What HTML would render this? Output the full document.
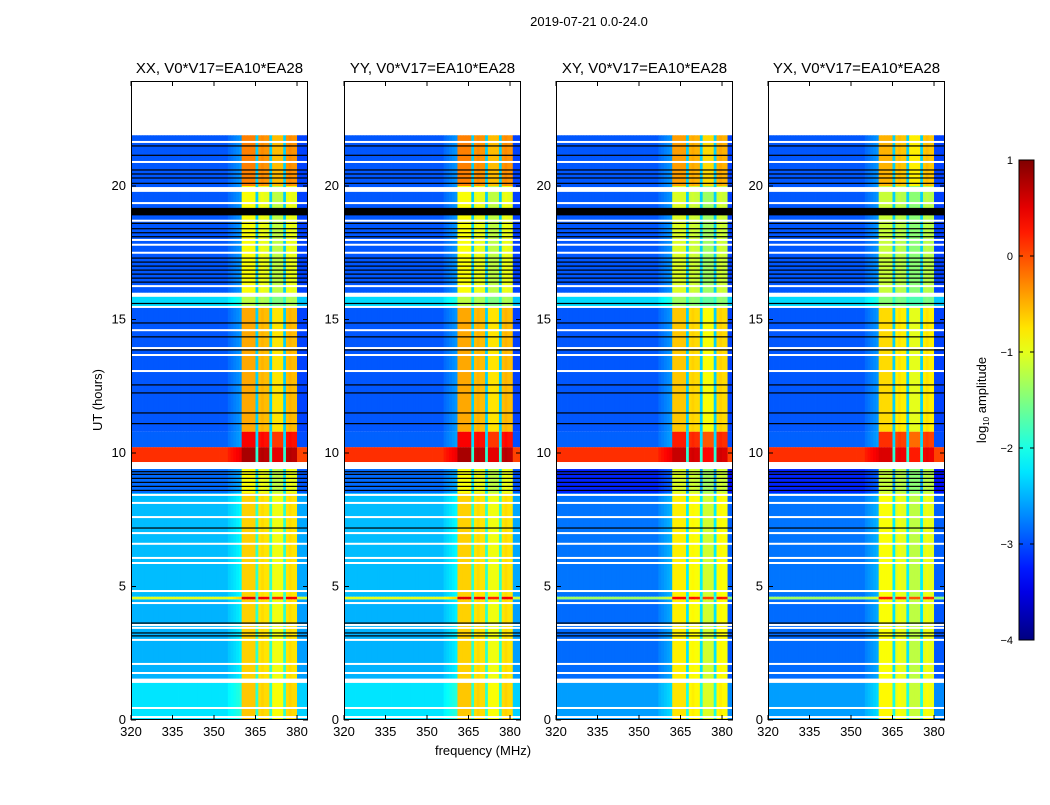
<!DOCTYPE html>
<html><head><meta charset="utf-8">
<style>
html,body{margin:0;padding:0;background:#fff;}
svg text{font-family:"Liberation Sans","DejaVu Sans",sans-serif;fill:#000;}
</style></head>
<body>
<svg id="fig" width="1050" height="800" xmlns="http://www.w3.org/2000/svg">
<text x="589" y="26" font-size="13" text-anchor="middle">2019-07-21 0.0-24.0</text>
<text x="483" y="755" font-size="13" text-anchor="middle">frequency (MHz)</text>
<text x="102" y="400" font-size="13" text-anchor="middle" transform="rotate(-90 102 400)">UT (hours)</text>
<g id="panels"></g>
<g id="cbar"></g>
</svg>
<script>
// ---- data ----
const panelTitles = ["XX, V0*V17=EA10*EA28","YY, V0*V17=EA10*EA28","XY, V0*V17=EA10*EA28","YX, V0*V17=EA10*EA28"];
const bandShift = [0, 0.5, 1.5, 0];          // MHz shift of RFI band per panel
const lowBgShift = [0, 0, -0.35, -0.35];     // background offset below 9.4 h
const panelBandAdj = [0, 0, -0.15, -0.25];   // band level offset per panel
// column kinds per 1-MHz bin starting at 320 MHz: 0 background, 1 band, 2 gap
const colKind = [0,0,0,0,0,0,0,0,0,0,0,0,0,0,0,0,0,0,0,0,0,0,0,0,0,0,0,0,0,0,0,0,0,0,0,
                 0,0,0,0,0, 1,1,1,1,1, 2, 1,1,1,1, 2, 1,1,1,1, 2, 1,1,1,1, 0,0,0,0];
const colAdj  = [0,0,0,0,0,0,0,0,0,0,0,0,0,0,0,0,0,0,0,0,0,0,0,0,0,0,0,0,0,0,0,0,0,0,0,
                 0.1,0.15,0.2,0.25,0.3, 0.1,0.1,0.1,0.1,0.1, 0, 0,0.05,0,0, 0, -0.2,-0.2,-0.2,-0.2, 0, 0,0.05,0,0, -0.1,-0.1,-0.1,-0.1];
// time segments: [t0, t1, background level, band level]
const segStart = [0, 1.4, 4.52, 4.62, 8.5, 9.66, 10.22, 10.8, 15.5, 16.0, 20.0];
const segEnd   = [1.4, 4.52, 4.62, 8.5, 9.4, 10.22, 10.8, 15.5, 16.0, 20.0, 21.9];
const segBg    = [-2.25, -2.5, -1.0, -2.45, -2.85, 0.15, -2.9, -2.95, -2.3, -2.95, -2.95];
const segBand  = [-0.7, -0.75, 0.4, -0.75, -1.0, 0.7, 0.3, -0.55, -1.3, -1.0, -0.35];
// flagged (white) blocks and lines
const whiteBlocks = [[1.39,1.55],[9.4,9.66],[15.85,16.0],[19.78,19.96]];
const whiteLines = [0.11,0.45,1.76,2.1,3.0,3.45,3.56,4.38,4.83,5.88,6.07,6.6,7.0,7.6,8.13,8.43,13.07,13.67,13.93,14.6,15.47,16.25,17.5,17.8,17.98,18.7,19.36,20.9,21.65];
const blackLines = [3.15,3.26,3.63,7.19,8.6,8.75,8.9,9.05,9.2,9.3,11.1,11.5,12.25,12.55,13.86,14.35,14.87,15.6,16.4,16.55,16.7,16.85,17.0,17.15,17.3,18.1,18.25,18.4,18.6,19.0,19.1,20.1,20.3,20.45,20.6,21.15,21.5];
const blackBlocks = [[18.9,19.18]];
const xTicks = [320,335,350,365,380];
const yTicks = [0,5,10,15,20];
const cbTicks = [1,0,-1,-2,-3,-4];

// ---- layout ----
const panelX = [131,344,556,768], panelW = 177, pTop = 81, pBot = 720;
const fMin = 320, fPx = 2.767;
const yOf = t => pBot - t*26.7;
const NS="http://www.w3.org/2000/svg";
function jet(v){
  let x=(v+4)/5; x=Math.max(0,Math.min(1,x));
  const c=a=>Math.round(255*Math.max(0,Math.min(1,1.5-Math.abs(4*x-a))));
  return `rgb(${c(3)},${c(2)},${c(1)})`;
}
function mk(tag,attrs,parent){const e=document.createElementNS(NS,tag);for(const k in attrs)e.setAttribute(k,attrs[k]);parent.appendChild(e);return e;}
const panels=document.getElementById('panels');
panelTitles.forEach((title,p)=>{
  const g=mk('g',{},panels);
  
  
  const x0=panelX[p];
  const clip=mk('clipPath',{id:'c'+p},g);mk('rect',{x:x0,y:pTop,width:panelW,height:pBot-pTop},clip);
  const hm=mk('g',{'clip-path':`url(#c${p})`},g);
  
  
  const nb=Math.ceil(panelW/fPx);
  for(let s=0;s<segStart.length;s++){
    const y1=yOf(segEnd[s]), y2=yOf(segStart[s]);
    const low=segStart[s]<9.4;
    for(let i=0;i<nb;i++){
      const f=fMin+i-bandShift[p];
      const k=Math.floor(f-fMin);
      let kind=0,adj=0;
      if(k>=0&&k<colKind.length){kind=colKind[k];adj=colAdj[k];}
      const bg=segBg[s]+(low?lowBgShift[p]:0);
      let v;
      if(kind===0) v=bg+adj;
      else if(kind===1) v=segBand[s]+adj+panelBandAdj[p];
      else v=Math.min(bg+0.6,-1.9);
      const r=mk('rect',{x:x0+i*fPx,y:y1,width:fPx+0.4,height:y2-y1,fill:jet(v)},hm);
      
      
    }
  }
  whiteBlocks.forEach(b=>{const r=mk('rect',{x:x0,y:yOf(b[1]),width:panelW,height:yOf(b[0])-yOf(b[1]),fill:'#fff'},hm);
    });
  blackBlocks.forEach(b=>{const r=mk('rect',{x:x0,y:yOf(b[1]),width:panelW,height:yOf(b[0])-yOf(b[1]),fill:'#000'},hm);
    });
  whiteLines.forEach(t=>{const r=mk('rect',{x:x0,y:yOf(t)-1,width:panelW,height:2,fill:'#fff'},hm);
    });
  blackLines.forEach(t=>{const r=mk('rect',{x:x0,y:yOf(t)-0.6,width:panelW,height:1.2,fill:'#000'},hm);
    });
  const fr=mk('rect',{x:x0+0.5,y:pTop+0.5,width:panelW-1,height:pBot-pTop-1,fill:'none',stroke:'#000','stroke-width':1},g);
  
  const tt=mk('text',{x:x0+panelW/2,y:73,'font-size':15,'text-anchor':'middle'},g);tt.textContent=title;
  
  xTicks.forEach(f=>{const x=x0+(f-fMin)*fPx;
    mk('line',{x1:x,x2:x,y1:pBot,y2:pBot-5,stroke:'#000'},g);
    mk('line',{x1:x,x2:x,y1:pTop,y2:pTop+5,stroke:'#000'},g);
    const t=mk('text',{x:x,y:pBot+16,'font-size':13,'text-anchor':'middle'},g);t.textContent=f;
    });
  yTicks.forEach(v=>{const y=yOf(v);
    mk('line',{x1:x0,x2:x0+5,y1:y,y2:y,stroke:'#000'},g);
    mk('line',{x1:x0+panelW,x2:x0+panelW-5,y1:y,y2:y,stroke:'#000'},g);
    const t=mk('text',{x:x0-5,y:y+4,'font-size':13,'text-anchor':'end'},g);t.textContent=v;
    });
});
// colorbar
const cb=document.getElementById('cbar');
const cbX=1019,cbW=15,cbT=160,cbB=640;
const defs=mk('defs',{},cb);
const lg=mk('linearGradient',{id:'jetg',x1:0,y1:1,x2:0,y2:0},defs);
for(let i=0;i<=20;i++){mk('stop',{offset:i/20,'stop-color':jet(-4+5*i/20)},lg);}
const cr=mk('rect',{x:cbX,y:cbT,width:cbW,height:cbB-cbT,fill:'url(#jetg)',stroke:'#000'},cb);

cbTicks.forEach(v=>{const y=cbB-(v+4)/5*(cbB-cbT);
  mk('line',{x1:cbX,x2:cbX+4,y1:y,y2:y,stroke:'#000'},cb);
  mk('line',{x1:cbX+cbW,x2:cbX+cbW-4,y1:y,y2:y,stroke:'#000'},cb);
  const t=mk('text',{x:1013,y:y+4,'font-size':11,'text-anchor':'end'},cb);t.textContent=(v<0?'\u2212'+(-v):v);
  });
const cl=mk('text',{x:986,y:400,'font-size':13,'text-anchor':'middle',transform:'rotate(-90 986 400)'},cb);
cl.innerHTML='log<tspan font-size="8" dy="3">10</tspan><tspan dy="-3"> amplitude</tspan>';

</script>
</body></html>
